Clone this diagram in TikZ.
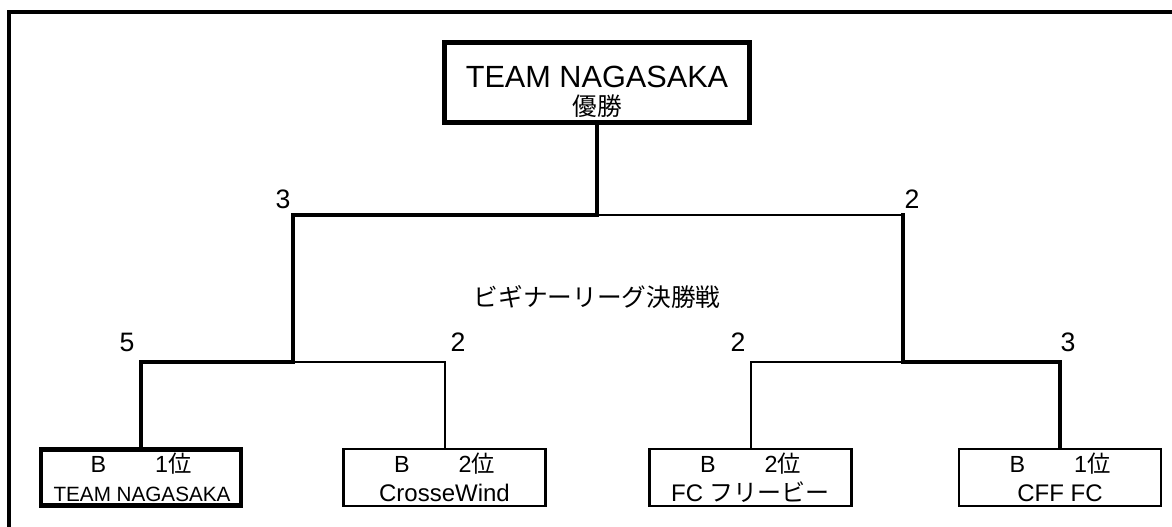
\documentclass[tikz,border=0pt]{standalone}
\usepackage{fontspec}
\setmainfont{Liberation Sans}
\newfontfamily\jp{Noto Sans CJK JP}
\tikzset{
  thickln/.style={line width=3pt, line join=miter, line cap=rect},
  thinln/.style={line width=1.5pt, line join=miter},
  winbox/.style={draw, line width=3.6pt, rectangle, inner sep=0pt},
  teambox/.style={draw, line width=2.2pt, rectangle, inner sep=0pt, minimum width=151.5pt, minimum height=42.75pt},
  score/.style={font=\fontsize{20}{22}\selectfont, inner sep=0pt},
  lineone/.style={anchor=base, inner sep=0pt, font=\fontsize{17.5}{20}\selectfont},
  linetwo/.style={anchor=base, inner sep=0pt, font=\fontsize{18}{20}\selectfont},
}
\begin{document}
\begin{tikzpicture}[x=0.75pt,y=-0.75pt]
\useasboundingbox (0,0) rectangle (1172,526);
% outer frame (top and left only)
\coordinate (fa) at (1180,12);
\coordinate (fb) at (9,12);
\coordinate (fc) at (9,540);
\draw[line width=3pt] (fa) -- (fb) -- (fc);

% champion box
\node[winbox, minimum width=229pt, minimum height=60pt] (top) at (597,82.5) {};
\node[anchor=base, inner sep=0pt, font=\fontsize{23}{26}\selectfont] (toptitle) at (597,87) {TEAM NAGASAKA};
\node[anchor=base, inner sep=0pt, font=\jp\fontsize{18.5}{20}\selectfont] (topsub) at (597,115) {優勝};

% team boxes
\node[winbox, minimum width=150pt, minimum height=41.5pt] (b1) at (141,477.5) {};
\node[teambox] (b2) at (444.5,477.5) {};
\node[teambox] (b3) at (750.5,477.5) {};
\node[teambox] (b4) at (1060,477.5) {};

\node[lineone] (t1a) at (141,472) {B\hspace{2.1em}1{\jp 位}};
\node[anchor=base, inner sep=0pt, font=\fontsize{15.5}{18}\selectfont] (t1b) at (142,501) {TEAM NAGASAKA};
\node[lineone] (t2a) at (444.5,472) {B\hspace{2.1em}2{\jp 位}};
\node[linetwo] (t2b) at (444.5,501) {CrosseWind};
\node[lineone] (t3a) at (750.5,472) {B\hspace{2.1em}2{\jp 位}};
\node[linetwo] (t3b) at (750.5,501) {FC {\jp フリービー}};
\node[lineone] (t4a) at (1060,472) {B\hspace{2.1em}1{\jp 位}};
\node[linetwo] (t4b) at (1060,501) {CFF FC};

% junctions
\coordinate (jl) at (293,362);
\coordinate (jr) at (903,362);
\coordinate (jt) at (597,215);

% thin (losing) connectors
\draw[thinln] (b2.north) |- (jl);
\draw[thinln] (b3.north) |- (jr);
\draw[thinln] (jt) -| (jr);

% thick (winning) connectors
\draw[thickln] (b1.north) |- (jl);
\draw[thickln] (b4.north) |- (jr);
\draw[thickln] (jl) |- (jt);
\draw[thickln] (jr) -- (jr |- jt);
\draw[thickln] (jt) -- (top.south);

% scores
\node[score] (s1) at (283,199) {3};
\node[score] (s2) at (912,199) {2};
\node[score] (s3) at (127,342) {5};
\node[score] (s4) at (458,342) {2};
\node[score] (s5) at (738,342) {2};
\node[score] (s6) at (1068,342) {3};

% round title
\node[inner sep=0pt, font=\jp\fontsize{18.5}{20}\selectfont] (round) at (597,297) {ビギナーリーグ決勝戦};
\end{tikzpicture}
\end{document}
